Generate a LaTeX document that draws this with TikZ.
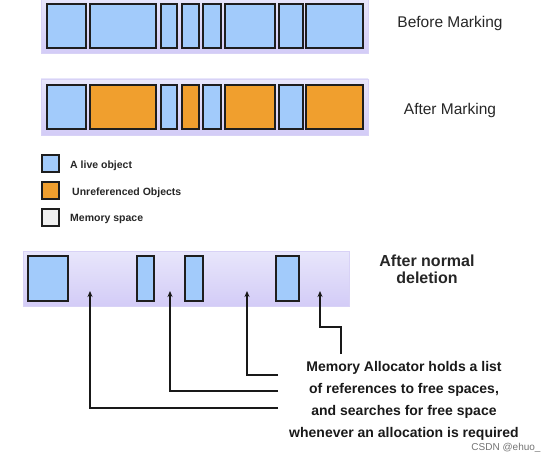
\documentclass[tikz,border=0pt]{standalone}
\usepackage{fontspec}
\setmainfont{Liberation Sans}
\usetikzlibrary{arrows.meta}
\definecolor{live}{HTML}{A2CBFB}
\definecolor{unref}{HTML}{F09F2E}
\definecolor{memsp}{HTML}{F0F0F0}
\definecolor{bgtop}{HTML}{E8E6FB}
\definecolor{bgbot}{HTML}{D3CCF7}
\definecolor{bgedge}{HTML}{D8D2F6}
\definecolor{boxline}{HTML}{1E1E1E}
\newcommand\memobj[6]{\node[objbox,fill=#6,anchor=north west,minimum width={(#4-#2)*1pt},minimum height={(#5-#3)*1pt}] (#1) at (#2,#3) {};}
\newcommand\membar[5]{\node[barbox,anchor=north west,minimum width={(#4-#2)*1pt},minimum height={(#5-#3)*1pt}] (#1) at (#2,#3) {};}
\begin{document}
\begin{tikzpicture}[x=1pt,y=-1pt,
  objbox/.style={draw=boxline,line width=1.4pt,inner sep=0pt,outer sep=0pt,rectangle},
  barbox/.style={draw=bgedge,line width=0.8pt,top color=bgtop,bottom color=bgbot,inner sep=0pt,outer sep=0pt,rectangle},
  title/.style={font=\fontsize{15.5}{18}\selectfont,text=black!85,inner sep=0pt},
  btitle/.style={font=\fontsize{16}{19}\bfseries\selectfont,text=black!85,inner sep=0pt,align=center},
  legtext/.style={font=\fontsize{10.5}{12}\bfseries\selectfont,text=black!85,inner sep=0pt,anchor=west},
  note/.style={font=\fontsize{14}{22.2}\bfseries\selectfont,text=black!90,inner sep=0pt,align=center},
  link/.style={line width=1.6pt,draw=black!90},
  arr/.style={link,-{Stealth[length=6pt,width=5pt]}}]
\useasboundingbox (0,0) rectangle (556,462);
% bar 1 : before marking
\membar{barA}{41}{-3}{368}{53}
\memobj{a1}{47}{4}{86}{48}{live}
\memobj{a2}{90}{4}{156}{48}{live}
\memobj{a3}{161}{4}{177}{48}{live}
\memobj{a4}{182}{4}{199}{48}{live}
\memobj{a5}{203}{4}{221}{48}{live}
\memobj{a6}{225}{4}{275}{48}{live}
\memobj{a7}{279}{4}{303}{48}{live}
\memobj{a8}{306}{4}{363}{48}{live}
\node[title] (tA) at (450,23) {Before Marking};
% bar 2 : after marking
\membar{barB}{41}{79}{368}{135}
\memobj{b1}{47}{85}{86}{129}{live}
\memobj{b2}{90}{85}{156}{129}{unref}
\memobj{b3}{161}{85}{177}{129}{live}
\memobj{b4}{182}{85}{199}{129}{unref}
\memobj{b5}{203}{85}{221}{129}{live}
\memobj{b6}{225}{85}{275}{129}{unref}
\memobj{b7}{279}{85}{303}{129}{live}
\memobj{b8}{306}{85}{363}{129}{unref}
\node[title] (tB) at (450,110) {After Marking};
% legend
\memobj{l1}{42}{155}{59}{172}{live}
\memobj{l2}{42}{182}{59}{199}{unref}
\memobj{l3}{42}{209}{59}{226}{memsp}
\node[legtext] (lt1) at (70,165.5) {A live object};
\node[legtext] (lt2) at (72,193) {Unreferenced Objects};
\node[legtext] (lt3) at (70,219) {Memory space};
% bar 3 : after normal deletion
\membar{barC}{23}{251}{349}{306}
\memobj{c1}{28}{256}{68}{301}{live}
\memobj{c2}{137}{256}{154}{301}{live}
\memobj{c3}{185}{256}{203}{301}{live}
\memobj{c4}{276}{256}{299}{301}{live}
\node[btitle] (tC) at (427,269.5) {After normal\\[-1.5pt]deletion};
% free-space pointers
\coordinate (f1) at (90,291);
\coordinate (f2) at (170,291);
\coordinate (f3) at (247,291);
\coordinate (f4) at (320,291);
\node[note] (txt) at (404,401) {Memory Allocator holds a list\\of references to free spaces,\\and searches for free space\\whenever an allocation is required};
\coordinate (e1) at (278,408);
\coordinate (e2) at (278,391);
\coordinate (e3) at (278,375);
\coordinate (e4) at (341,354);
\draw[arr] (e1) -| (f1);
\draw[arr] (e2) -| (f2);
\draw[arr] (e3) -| (f3);
\draw[arr] (e4) |- (320,327) -- (f4);
\node[font=\fontsize{10}{12}\selectfont,text=black!55,inner sep=0pt] (wm) at (506,448) {CSDN @ehuo\_};
\end{tikzpicture}
\end{document}
